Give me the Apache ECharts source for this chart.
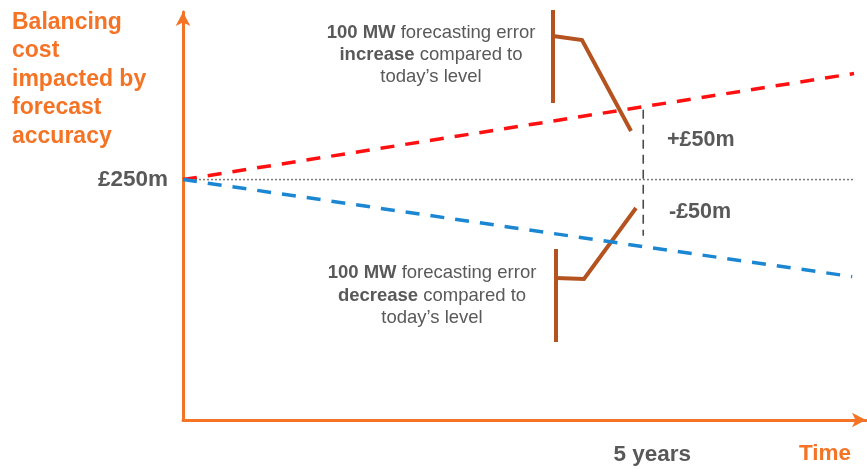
<!DOCTYPE html>
<html><head><meta charset="utf-8">
<script src="https://cdn.jsdelivr.net/npm/echarts@6/dist/echarts.min.js"></script>
<style>html,body{margin:0;padding:0;background:#fff}#c{width:867px;height:469px}</style>
</head><body><div id="c"></div>
<script>
// years on x, £m on y
const baseX = [0, 7.3];
const baseY = [250, 250];
const increaseX = [0, 5, 7.29];
const increaseY = [250, 300, 322.8];
const decreaseX = [0, 5, 7.27];
const decreaseY = [250, 204, 183.4];
const fiveYearX = [5, 5];
const fiveYearY = [298, 211.5];
const yTickValues = [250];
const xTickValues = [5];

const FONT = '"Liberation Sans", Arial, sans-serif';
const ORANGE = '#F47325';
const GREY = '#595959';
const BROWN = '#B4531F';
const pair = (xs, ys) => xs.map((x, i) => [x, ys[i]]);

function callout(lines, cx, top, lh) {
  return lines.map((t, i) => ({
    type: 'text', x: cx, y: top + i * lh,
    style: {text: t, align: 'center', verticalAlign: 'middle', fontFamily: FONT, fontSize: 18.5, fill: GREY,
      rich: {b: {fontFamily: FONT, fontSize: 18.5, fontWeight: 'bold', fill: GREY}}}
  }));
}

const chart = echarts.init(document.getElementById('c'), null, {renderer: 'canvas'});
chart.setOption({
  animation: false,
  grid: {left: 183, top: 12, right: 1, bottom: 49},
  xAxis: {
    type: 'value', min: 0, max: 7.42,
    axisLine: {show: true, lineStyle: {color: ORANGE, width: 3}, symbol: ['none', 'arrow'], symbolSize: [11, 14]},
    axisTick: {show: false}, splitLine: {show: false},
    axisLabel: {customValues: xTickValues, formatter: v => v + ' years', margin: 23, padding: [0, 0, 0, 18],
      fontFamily: FONT, fontSize: 22.5, fontWeight: 'bold', color: GREY}
  },
  yAxis: {
    type: 'value', min: 85, max: 365,
    axisLine: {show: true, lineStyle: {color: ORANGE, width: 3}, symbol: ['none', 'arrow'], symbolSize: [11, 14]},
    axisTick: {show: false}, splitLine: {show: false},
    axisLabel: {customValues: yTickValues, formatter: v => '£' + v + 'm', margin: 15,
      fontFamily: FONT, fontSize: 22.5, fontWeight: 'bold', color: GREY}
  },
  series: [
    {type: 'line', data: pair(baseX, baseY), symbol: 'none', lineStyle: {color: '#7a7a7a', width: 1.5, type: [2, 2]}, z: 1},
    {type: 'line', data: pair(fiveYearX, fiveYearY), symbol: 'none', lineStyle: {color: '#4a4a4a', width: 1.6, type: [9, 6]}, z: 1},
    {type: 'line', data: pair(increaseX, increaseY), symbol: 'none', lineStyle: {color: '#FF1010', width: 3.5, type: [14, 11]}, z: 3},
    {type: 'line', data: pair(decreaseX, decreaseY), symbol: 'none', lineStyle: {color: '#1B86D1', width: 3.5, type: [14, 11]}, z: 3}
  ],
  graphic: [
    {type: 'text', left: 12, top: 8, style: {text: 'Balancing\ncost\nimpacted by\nforecast\naccuracy', fontFamily: FONT, fontSize: 23, fontWeight: 'bold', fill: ORANGE, lineHeight: 28.5}},
    {type: 'text', left: 799, top: 442, style: {text: 'Time', fontFamily: FONT, fontSize: 22.5, fontWeight: 'bold', fill: ORANGE}},
    {type: 'text', left: 667, top: 129, style: {text: '+£50m', fontFamily: FONT, fontSize: 21.5, fontWeight: 'bold', fill: GREY}},
    {type: 'text', left: 669, top: 201, style: {text: '-£50m', fontFamily: FONT, fontSize: 21.5, fontWeight: 'bold', fill: GREY}},
    ...callout(['{b|100 MW} forecasting error', '{b|increase} compared to', 'today’s level'], 431, 33, 22),
    ...callout(['{b|100 MW} forecasting error', '{b|decrease} compared to', 'today’s level'], 432, 273, 22.5),
    {type: 'line', shape: {x1: 553, y1: 10, x2: 553, y2: 103}, style: {stroke: BROWN, lineWidth: 4}},
    {type: 'polyline', shape: {points: [[553, 36], [582, 40], [631, 131]]}, style: {stroke: BROWN, lineWidth: 4, fill: null}},
    {type: 'line', shape: {x1: 556, y1: 249, x2: 556, y2: 342}, style: {stroke: BROWN, lineWidth: 4}},
    {type: 'polyline', shape: {points: [[556, 278], [584, 279], [636, 208]]}, style: {stroke: BROWN, lineWidth: 4, fill: null}}
  ]
});
</script></body></html>
